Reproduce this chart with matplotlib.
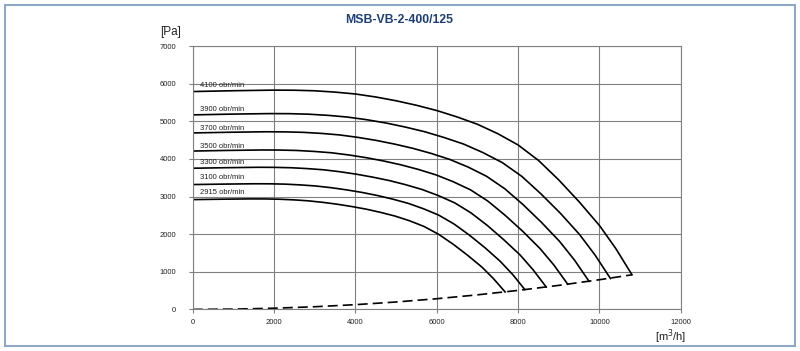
"""
Fan curves for MSB-VB-2-400/125: static pressure vs air flow at several speeds.
"""

import matplotlib
matplotlib.use('Agg')
import matplotlib.pyplot as plt
from matplotlib.patches import Rectangle

plt.rcParams['font.family'] = ['Liberation Sans', 'DejaVu Sans']

# --- data ---
speeds = ['4100 obr/min', '3900 obr/min', '3700 obr/min', '3500 obr/min',
          '3300 obr/min', '3100 obr/min', '2915 obr/min']

q_4100 = [0, 1000, 2000, 2500, 3000, 3500, 4000, 4500, 5000, 5500, 6000, 6500, 7000,
          7500, 8000, 8500, 9000, 9500, 10000, 10400, 10800]
p_4100 = [5790, 5812, 5828, 5825, 5810, 5775, 5725, 5645, 5545, 5425, 5285, 5115, 4920,
          4670, 4370, 3960, 3440, 2860, 2230, 1620, 920]

q_3900 = [0, 950, 1900, 2380, 2850, 3330, 3800, 4280, 4760, 5230, 5710, 6180, 6660,
          7130, 7610, 8090, 8560, 9040, 9510, 9890, 10270]
p_3900 = [5170, 5190, 5204, 5202, 5188, 5157, 5112, 5041, 4952, 4845, 4720, 4568, 4394,
          4170, 3902, 3536, 3072, 2554, 1991, 1447, 822]

q_3700 = [0, 900, 1800, 2260, 2710, 3160, 3610, 4060, 4510, 4960, 5410, 5870, 6320,
          6770, 7220, 7670, 8120, 8570, 9020, 9385, 9745]
p_3700 = [4690, 4708, 4721, 4718, 4706, 4678, 4637, 4572, 4491, 4394, 4281, 4143, 3985,
          3783, 3540, 3208, 2786, 2317, 1806, 1312, 745]

q_3500 = [0, 850, 1710, 2130, 2560, 2990, 3415, 3840, 4270, 4695, 5120, 5550, 5975,
          6400, 6830, 7255, 7680, 8110, 8535, 8880, 9220]
p_3500 = [4209, 4225, 4237, 4235, 4224, 4198, 4162, 4104, 4031, 3944, 3842, 3719, 3577,
          3395, 3177, 2879, 2501, 2079, 1621, 1178, 669]

q_3300 = [0, 805, 1610, 2010, 2415, 2815, 3220, 3620, 4025, 4425, 4830, 5230, 5635,
          6035, 6440, 6840, 7245, 7645, 8050, 8370, 8690]
p_3300 = [3752, 3766, 3777, 3775, 3765, 3742, 3710, 3658, 3593, 3515, 3425, 3315, 3188,
          3026, 2832, 2566, 2229, 1853, 1445, 1050, 596]

q_3100 = [0, 755, 1510, 1890, 2270, 2645, 3025, 3400, 3780, 4160, 4535, 4915, 5295,
          5670, 6050, 6425, 6805, 7185, 7560, 7865, 8165]
p_3100 = [3318, 3330, 3339, 3338, 3329, 3309, 3280, 3235, 3177, 3109, 3028, 2931, 2819,
          2676, 2504, 2269, 1971, 1639, 1278, 928, 527]

q_2915 = [0, 710, 1420, 1780, 2135, 2490, 2845, 3200, 3555, 3910, 4265, 4620, 4975,
          5335, 5690, 6045, 6400, 6755, 7110, 7395, 7680]
p_2915 = [2918, 2929, 2937, 2936, 2928, 2911, 2885, 2845, 2795, 2734, 2664, 2578, 2480,
          2354, 2202, 1996, 1734, 1441, 1124, 816, 464]

# system (working point) line, dashed
q_sys = [0, 1000, 2000, 3000, 4000, 5000, 6000, 7000, 8000, 9000, 10000, 10800]
p_sys = [0, 8, 32, 71, 126, 197, 284, 387, 505, 639, 789, 920]

# label anchor heights (Pa) at the left edge
label_q = 170
label_p = [5945, 5300, 4812, 4342, 3908, 3500, 3112]

x_ticks = [0, 2000, 4000, 6000, 8000, 10000, 12000]
y_ticks = [0, 1000, 2000, 3000, 4000, 5000, 6000, 7000]

curves = [(q_4100, p_4100), (q_3900, p_3900), (q_3700, p_3700), (q_3500, p_3500),
          (q_3300, p_3300), (q_3100, p_3100), (q_2915, p_2915)]

fig = plt.figure(figsize=(8, 3.51), dpi=100)
ax = fig.add_axes([0.241, 0.1185, 0.61, 0.7504])

grid_col = '#808080'
for q, p in curves:
    ax.plot(q, p, color='black', lw=1.2, solid_joinstyle='round')
ax.plot(q_sys, p_sys, color='black', lw=1.2, dashes=(6, 3))

for name, yp in zip(speeds, label_p):
    ax.text(label_q, yp, name, fontsize=5.5, va='center', ha='left', color='#222222')

ax.set_xlim(0, 12000)
ax.set_ylim(0, 7000)
ax.set_xticks(x_ticks)
ax.set_yticks(y_ticks)
ax.grid(True, color=grid_col, lw=0.8)
ax.set_axisbelow(True)
for s in ax.spines.values():
    s.set_color(grid_col)
    s.set_linewidth(0.8)
ax.tick_params(axis='both', length=3, width=0.8, color=grid_col, labelsize=5.5,
               labelcolor='#222222')
ax.tick_params(axis='y', pad=9)
ax.tick_params(axis='x', pad=4)

fig.text(0.4994, 0.943, 'MSB-VB-2-400/125', ha='center', va='center', fontsize=8.8,
         fontweight='bold', color='#1c3f76')
fig.text(0.213, 0.91, '[Pa]', ha='center', va='center', fontsize=8.5, color='#222222')
fig.text(0.838, 0.04, '[m$^3$/h]', ha='center', va='center', fontsize=8, color='#222222')

# light blue frame round the whole picture
fig.patches.append(Rectangle((0.006, 0.014), 0.988, 0.972, transform=fig.transFigure,
                             fill=False, edgecolor='#8ea8c8', lw=1.5))

fig.savefig('out.png', dpi=100)
